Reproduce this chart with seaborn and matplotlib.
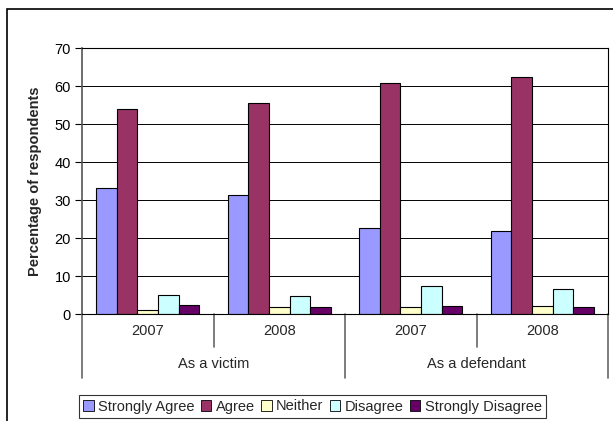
import matplotlib
matplotlib.use("Agg")
import matplotlib.pyplot as plt
import seaborn as sns
import pandas as pd
from matplotlib.patches import Rectangle

groups = ["As a victim", "As a defendant"]
years = ["2007", "2008", "2007", "2008"]
categories = ["As a victim 2007", "As a victim 2008", "As a defendant 2007", "As a defendant 2008"]
responses = ["Strongly Agree", "Agree", "Neither", "Disagree", "Strongly Disagree"]
strongly_agree = [33.2, 31.3, 22.8, 21.9]
agree = [54.1, 55.7, 60.9, 62.4]
neither = [1.1, 1.8, 1.8, 2.1]
disagree = [5.1, 4.8, 7.5, 6.7]
strongly_disagree = [2.4, 1.8, 2.1, 1.8]
colors = ["#9999FF", "#993366", "#FFFFCC", "#CCFFFF", "#660066"]

series = [strongly_agree, agree, neither, disagree, strongly_disagree]
rows = []
for resp, vals in zip(responses, series):
    for cat, v in zip(categories, vals):
        rows.append({"cat": cat, "resp": resp, "val": v})
df = pd.DataFrame(rows)

sns.set_style("white")
plt.rcParams["font.family"] = ["Liberation Sans", "DejaVu Sans"]
FS = 10.5

W, H = 613, 421
fig = plt.figure(figsize=(W / 100, H / 100), dpi=100)
ax = fig.add_axes([82 / W, 1 - 314.3 / H, (608 - 82) / W, (314.3 - 48.3) / H])

sns.barplot(data=df, x="cat", y="val", hue="resp", order=categories,
            hue_order=responses, palette=colors, width=0.78,
            edgecolor="black", linewidth=0.8, ax=ax, legend=True, saturation=1)

ax.set_ylim(0, 70)
ax.set_xlim(-0.5, 3.5)
ax.set_yticks(range(0, 71, 10))
ax.yaxis.grid(True, color="black", linewidth=0.7)
ax.set_axisbelow(True)
for s in ax.spines.values():
    s.set_visible(True)
    s.set_color("black")
    s.set_linewidth(0.8)
ax.spines["left"].set_color("#555555")
ax.spines["left"].set_linewidth(1.2)
ax.tick_params(axis="y", which="both", left=True, length=5, width=0.8,
               labelsize=FS, pad=3, colors="black")
ax.set_xticks([])
ax.set_xlabel("")
ax.set_ylabel("Percentage of respondents", fontsize=FS, fontweight="bold", labelpad=9)

# category axis separators and labels
trans = ax.get_xaxis_transform()
def px2ax(y):
    # figure pixel y (from top) -> axes y fraction
    return (314.3 - y) / (314.3 - 48.3)

def px2data(x):
    return -0.5 + (x - 82) / ((608 - 82) / 4)

for x in [-0.5, 1.5, 3.5]:
    ax.plot([x, x], [0, px2ax(378)], transform=trans, color="#666666", lw=1.2, clip_on=False)
for x in [0.5, 2.5]:
    ax.plot([x, x], [0, px2ax(347)], transform=trans, color="#666666", lw=1.2, clip_on=False)
for i, y in enumerate(years):
    ax.text(i, px2ax(331), y, transform=trans, ha="center", va="center", fontsize=FS)
for i, g in enumerate(groups):
    ax.text(0.5 + 2 * i, px2ax(364), g, transform=trans, ha="center", va="center", fontsize=FS)

leg = ax.legend(loc="center", bbox_to_anchor=(px2data(312.5), px2ax(406.5)),
                bbox_transform=trans, ncol=5, frameon=True, fontsize=FS,
                handlelength=0.7, handleheight=0.7, handletextpad=0.3,
                columnspacing=0.45, borderpad=0.3, fancybox=False, borderaxespad=0)
leg.get_frame().set_edgecolor("black")
leg.get_frame().set_linewidth(0.8)
for h in leg.legend_handles:
    h.set_edgecolor("black")
    h.set_linewidth(0.6)

# outer chart border (clipped on right and bottom)
fig.patches.append(Rectangle((7 / W, -0.05), 1.1, 1 - 9 / H + 0.05,
                             transform=fig.transFigure, fill=False,
                             edgecolor="black", linewidth=1.2))

fig.savefig("out.png", dpi=100)
